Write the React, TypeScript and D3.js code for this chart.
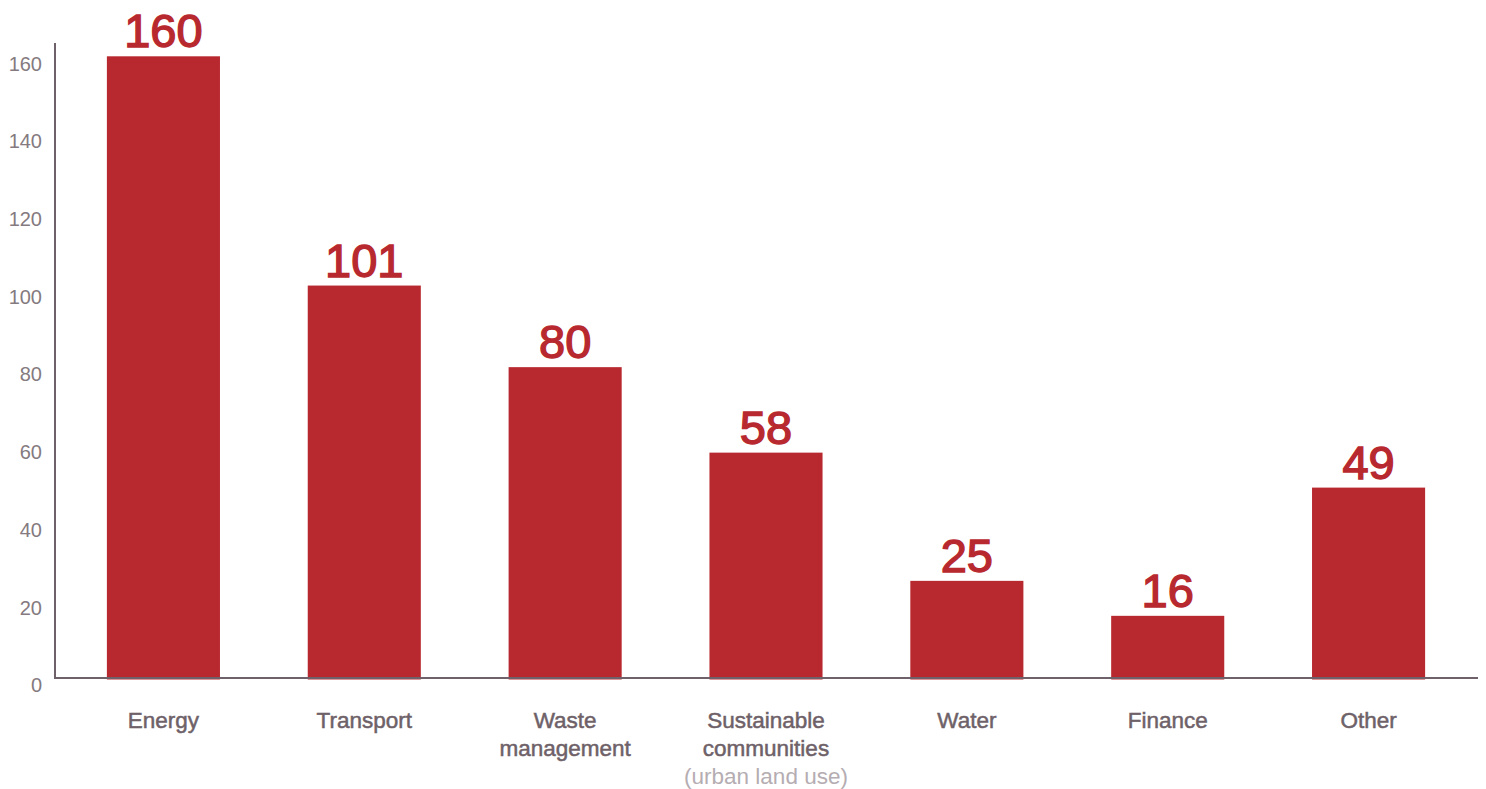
import React from "react";
import * as d3 from "d3";

const categories = ["Energy", "Transport", "Waste management", "Sustainable communities", "Water", "Finance", "Other"];
const values = [160, 101, 80, 58, 25, 16, 49];
const categoryLines = [["Energy"], ["Transport"], ["Waste", "management"], ["Sustainable", "communities"], ["Water"], ["Finance"], ["Other"]];
const categoryNotes = ["", "", "", "(urban land use)", "", "", ""];
const yTicks = [0, 20, 40, 60, 80, 100, 120, 140, 160];

const W = 1486;
const H = 789;
const RED = "#b8292f";
const AXIS = "#6f6169";

export default function App() {
  const x = d3.scaleBand<string>().domain(categories).range([63, 1469]).paddingInner(0.437).paddingOuter(0.2185);
  const y = d3.scaleLinear().domain([0, 160]).range([678, 56.3]);
  const axisX = 55;
  const font = "'Liberation Sans', Arial, Helvetica, sans-serif";

  return (
    <svg width={W} height={H} style={{ position: "absolute", left: 0, top: 0, display: "block", background: "#fff" }}>
      {categories.map((c, i) => (
        <rect key={c} x={x(c)} y={y(values[i])} width={x.bandwidth()} height={y(0) - y(values[i]) + 1.5} fill={RED} />
      ))}
      <line x1={axisX} x2={axisX} y1={43} y2={678} stroke={AXIS} strokeWidth={2} />
      <line x1={axisX - 1} x2={1478} y1={678} y2={678} stroke={AXIS} strokeWidth={2} />
      {yTicks.map((t) => (
        <text key={t} x={42} y={y(t) + 9} textAnchor="end" dominantBaseline="middle" fontFamily={font} fontSize={20} fill="#847a80">
          {t}
        </text>
      ))}
      {categories.map((c, i) => (
        <text key={c + "v"} x={(x(c) ?? 0) + x.bandwidth() / 2} y={y(values[i]) - 9} textAnchor="middle" fontFamily={font} fontSize={47} fill={RED} stroke={RED} strokeWidth={1.4}>
          {values[i]}
        </text>
      ))}
      {categories.map((c, i) => {
        const cx = (x(c) ?? 0) + x.bandwidth() / 2;
        return (
          <g key={c + "l"}>
            {categoryLines[i].map((ln, j) => (
              <text key={ln} x={cx} y={722 + j * 28} textAnchor="middle" dominantBaseline="middle" fontFamily={font} fontSize={22.5} fill="#6e6168" stroke="#6e6168" strokeWidth={0.5}>
                {ln}
              </text>
            ))}
            {categoryNotes[i] && (
              <text x={cx} y={722 + categoryLines[i].length * 28} textAnchor="middle" dominantBaseline="middle" fontFamily={font} fontSize={22.5} fill="#b5adb2">
                {categoryNotes[i]}
              </text>
            )}
          </g>
        );
      })}
    </svg>
  );
}
